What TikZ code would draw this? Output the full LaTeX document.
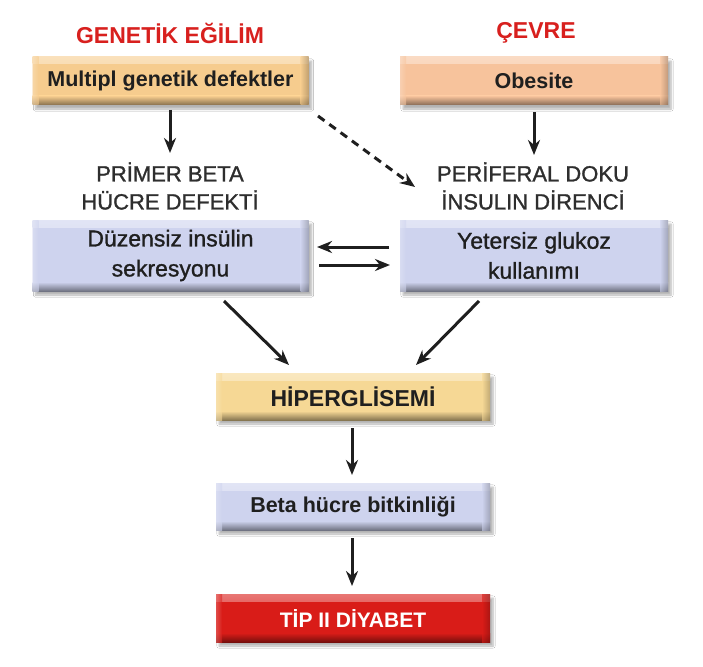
\documentclass[tikz,border=0pt]{standalone}
\usepackage{fontspec}
\setmainfont{Liberation Sans}
\newfontfamily\medfont[FakeBold=1.2]{Liberation Sans}
\usetikzlibrary{arrows.meta,shadows.blur}
\definecolor{tan}{HTML}{F6CC8E}
\definecolor{peach}{HTML}{F7C39C}
\definecolor{lav}{HTML}{CED3EE}
\definecolor{yel}{HTML}{F6D895}
\definecolor{rd}{HTML}{D91C18}
\definecolor{ttl}{HTML}{D8201E}
\tikzset{
  bevbox/.style={inner sep=0pt, align=center, text=black!88, fill=#1,
    blur shadow={shadow xshift=3pt, shadow yshift=-4pt, shadow opacity=30, shadow blur steps=6},
    path picture={
      \shade[top color=#1!60!white, bottom color=#1]
        (path picture bounding box.north west) rectangle ([yshift=-7pt]path picture bounding box.north east);
      \shade[top color=#1, bottom color=#1!55!black]
        ([yshift=9pt]path picture bounding box.south west) rectangle (path picture bounding box.south east);
      \shade[left color=#1, right color=#1!65!black, opacity=0.6]
        ([xshift=-8pt]path picture bounding box.north east) rectangle (path picture bounding box.south east);
      \shade[left color=#1!65!white, right color=#1, opacity=0.6]
        (path picture bounding box.north west) rectangle ([xshift=6pt]path picture bounding box.south west);
    }},
  ttlstyle/.style={text=ttl, font=\bfseries\fontsize{23}{26}\selectfont},
  hdstyle/.style={align=center, font=\medfont\fontsize{22}{28}\selectfont, text=black!82},
  bigbold/.style={font=\bfseries\fontsize{21.5}{24}\selectfont},
  midtext/.style={font=\medfont\fontsize{23}{30}\selectfont},
  arr/.style={-{Stealth[length=15pt,width=12pt]}, line width=3pt, black!88},
}
\begin{document}
\begin{tikzpicture}[x=1pt,y=-1pt]
\useasboundingbox (0,0) rectangle (703,666);
\fill[white] (0,0) rectangle (703,666);
% titles
\node[ttlstyle] (t1) at (170,33) {GENETİK EĞİLİM};
\node[ttlstyle] (t2) at (536,33) {ÇEVRE};
% top boxes
\node[bevbox=tan, minimum width=276pt, minimum height=48pt, bigbold] (mg) at (170.5,81) {Multipl genetik defektler};
\node[bevbox=peach, minimum width=268pt, minimum height=48pt, bigbold] (ob) at (534,81) {Obesite};
% headings
\node[hdstyle] (h1) at (170,186) {PRİMER BETA\\HÜCRE DEFEKTİ};
\node[hdstyle] (h2) at (533,186) {PERİFERAL DOKU\\İNSULIN DİRENCİ};
% middle boxes
\node[bevbox=lav, minimum width=276pt, minimum height=71pt, midtext] (dz) at (170.5,255.5) {Düzensiz insülin\\sekresyonu};
\node[bevbox=lav, minimum width=268pt, minimum height=71pt, midtext] (ye) at (534,255.5) {Yetersiz glukoz\\kullanımı};
% lower boxes
\node[bevbox=yel, minimum width=274pt, minimum height=47pt, font=\bfseries\fontsize{23}{26}\selectfont] (hp) at (353,396.5) {HİPERGLİSEMİ};
\node[bevbox=lav, minimum width=274pt, minimum height=47pt, bigbold] (bh) at (353,506.5) {Beta hücre bitkinliği};
\node[bevbox=rd, minimum width=274pt, minimum height=48pt, text=white, font=\bfseries\fontsize{21}{24}\selectfont] (tp) at (353,618) {TİP II DİYABET};
% connector end points
\coordinate (a1s) at (170,110); \coordinate (a1e) at (170,153);
\coordinate (a2s) at (534,112); \coordinate (a2e) at (534,155);
\coordinate (dss) at (318,116); \coordinate (dse) at (415,187);
\coordinate (lls) at (389,247); \coordinate (lle) at (317,247);
\coordinate (rrs) at (319,265); \coordinate (rre) at (390,265);
\coordinate (d1s) at (224,301); \coordinate (d1e) at (289,365);
\coordinate (d2s) at (479,301); \coordinate (d2e) at (416,365);
\coordinate (v1s) at (352,428); \coordinate (v1e) at (352,475);
\coordinate (v2s) at (352,538); \coordinate (v2e) at (352,586);
\draw[arr] (a1s) -- (a1e);
\draw[arr] (a2s) -- (a2e);
\draw[arr, dash pattern=on 8pt off 6pt] (dss) -- (dse);
\draw[arr] (lls) -- (lle);
\draw[arr] (rrs) -- (rre);
\draw[arr] (d1s) -- (d1e);
\draw[arr] (d2s) -- (d2e);
\draw[arr] (v1s) -- (v1e);
\draw[arr] (v2s) -- (v2e);
\end{tikzpicture}
\end{document}
